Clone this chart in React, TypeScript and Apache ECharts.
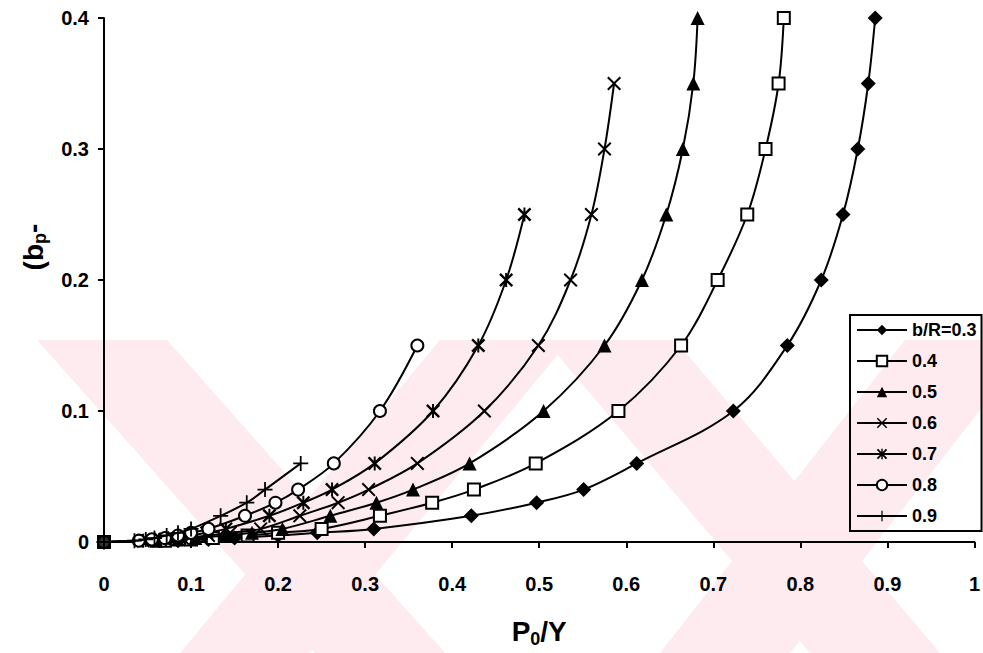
import React, { useEffect, useRef } from "react";
import * as echarts from "echarts";

const FONT = "'Liberation Sans', Arial, sans-serif";

// y levels ((b_p - ...)) shared by the curves
const y03 = [0, 0.001, 0.002, 0.003, 0.005, 0.007, 0.01, 0.02, 0.03, 0.04, 0.06, 0.1, 0.15, 0.2, 0.25, 0.3, 0.35, 0.4];
const y04 = [0, 0.001, 0.002, 0.003, 0.005, 0.007, 0.01, 0.02, 0.03, 0.04, 0.06, 0.1, 0.15, 0.2, 0.25, 0.3, 0.35, 0.4];
const y05 = [0, 0.001, 0.002, 0.003, 0.005, 0.007, 0.01, 0.02, 0.03, 0.04, 0.06, 0.1, 0.15, 0.2, 0.25, 0.3, 0.35, 0.4];
const y06 = [0, 0.001, 0.002, 0.003, 0.005, 0.007, 0.01, 0.02, 0.03, 0.04, 0.06, 0.1, 0.15, 0.2, 0.25, 0.3, 0.35];
const y07 = [0, 0.001, 0.002, 0.003, 0.005, 0.007, 0.01, 0.02, 0.03, 0.04, 0.06, 0.1, 0.15, 0.2, 0.25];
const y08 = [0, 0.001, 0.002, 0.003, 0.005, 0.007, 0.01, 0.02, 0.03, 0.04, 0.06, 0.1, 0.15];
const y09 = [0, 0.001, 0.002, 0.003, 0.005, 0.007, 0.01, 0.02, 0.03, 0.04, 0.06];

// P0/Y values for each curve
const x03 = [0, 0.085, 0.12, 0.15, 0.2, 0.245, 0.31, 0.422, 0.497, 0.551, 0.612, 0.723, 0.785, 0.824, 0.849, 0.866, 0.878, 0.886];
const x04 = [0, 0.07, 0.1, 0.125, 0.165, 0.2, 0.25, 0.317, 0.377, 0.425, 0.496, 0.591, 0.663, 0.705, 0.739, 0.76, 0.775, 0.781];
const x05 = [0, 0.06, 0.085, 0.105, 0.14, 0.17, 0.205, 0.26, 0.313, 0.355, 0.42, 0.505, 0.575, 0.618, 0.646, 0.665, 0.677, 0.682];
const x06 = [0, 0.05, 0.07, 0.09, 0.12, 0.145, 0.18, 0.225, 0.269, 0.304, 0.36, 0.437, 0.499, 0.536, 0.56, 0.575, 0.586];
const x07 = [0, 0.045, 0.065, 0.08, 0.1, 0.118, 0.14, 0.19, 0.229, 0.262, 0.311, 0.378, 0.43, 0.462, 0.483];
const x08 = [0, 0.04, 0.055, 0.07, 0.085, 0.1, 0.12, 0.162, 0.197, 0.223, 0.264, 0.317, 0.36];
const x09 = [0, 0.035, 0.048, 0.058, 0.072, 0.085, 0.1, 0.134, 0.164, 0.185, 0.226];

const seriesNames = ["b/R=0.3", "0.4", "0.5", "0.6", "0.7", "0.8", "0.9"];
const origin = [[0, 0]];

const CROSS = "path://M0,1 L1,0 L5,4 L9,0 L10,1 L6,5 L10,9 L9,10 L5,6 L1,10 L0,9 L4,5 Z";
const STAR =
  "path://M0,1.2 L1.2,0 L5,3.8 L8.8,0 L10,1.2 L6.2,5 L10,8.8 L8.8,10 L5,6.2 L1.2,10 L0,8.8 L3.8,5 Z M4.3,0 L5.7,0 L5.7,10 L4.3,10 Z";
const PLUS =
  "path://M4.4,0 L5.6,0 L5.6,4.4 L10,4.4 L10,5.6 L5.6,5.6 L5.6,10 L4.4,10 L4.4,5.6 L0,5.6 L0,4.4 L4.4,4.4 Z";

const styles = [
  { symbol: "diamond", size: 15, fill: "#000", bw: 0 },
  { symbol: "rect", size: 12, fill: "#fff", bw: 2 },
  { symbol: "triangle", size: 14, fill: "#000", bw: 0 },
  { symbol: CROSS, size: 14, fill: "#000", bw: 0 },
  { symbol: STAR, size: 14, fill: "#000", bw: 0 },
  { symbol: "circle", size: 12, fill: "#fff", bw: 2 },
  { symbol: PLUS, size: 15, fill: "#000", bw: 0 },
];

const xs = [x03, x04, x05, x06, x07, x08, x09];
const ys = [y03, y04, y05, y06, y07, y08, y09];

export default function App() {
  const ref = useRef<HTMLDivElement>(null);
  useEffect(() => {
    const chart = echarts.init(ref.current as HTMLDivElement, null, { renderer: "svg" });
    const pink = "#fdebef";
    const band = (pts: number[][]) => ({
      type: "polygon",
      shape: { points: pts },
      style: { fill: pink },
      z: -1,
      silent: true,
    });
    const series: any[] = seriesNames.map((name, k) => ({
      name,
      type: "line",
      data: xs[k].map((x, i) => [x, ys[k][i]]),
      smooth: 0.35,
      symbol: styles[k].symbol,
      symbolSize: styles[k].size,
      showSymbol: true,
      lineStyle: { color: "#000", width: 2 },
      itemStyle: { color: styles[k].fill, borderColor: "#000", borderWidth: styles[k].bw },
      emphasis: { disabled: true },
      z: 3 + k,
    }));
    series.push({
      name: "origin",
      type: "scatter",
      data: origin,
      symbol: "rect",
      symbolSize: 14,
      itemStyle: { color: "#000" },
      z: 20,
    });
    const option: any = {
      animation: false,
      backgroundColor: "transparent",
      textStyle: { fontFamily: FONT },
      graphic: [
        band([[37, 340], [167, 340], [445, 653], [315, 653]]),
        band([[440, 340], [570, 340], [310, 653], [180, 653]]),
        band([[545, 340], [675, 340], [940, 653], [810, 653]]),
        band([[905, 340], [1035, 340], [790, 653], [660, 653]]),
      ],
      grid: { left: 104, right: 3, top: 18, bottom: 110, containLabel: false },
      xAxis: {
        type: "value",
        min: 0,
        max: 1,
        interval: 0.1,
        name: "{b|P}{s|0}{b|/Y}",
        nameLocation: "middle",
        nameGap: 74,
        nameTextStyle: {
          rich: {
            b: { fontSize: 28, fontWeight: "bold", fontFamily: FONT, color: "#000", lineHeight: 30 },
            s: { fontSize: 18, fontWeight: "bold", fontFamily: FONT, color: "#000", lineHeight: 18, padding: [16, 0, 0, 0] },
          },
        },
        axisLine: { show: true, lineStyle: { color: "#000", width: 2 } },
        axisTick: { show: true, inside: false, length: 6, lineStyle: { color: "#000", width: 2 } },
        axisLabel: { color: "#000", fontSize: 20, fontWeight: "bold", fontFamily: FONT, margin: 32 },
        splitLine: { show: false },
      },
      yAxis: {
        type: "value",
        min: 0,
        max: 0.4,
        interval: 0.1,
        name: "{b|(b}{s|p}{b|-}",
        nameLocation: "middle",
        nameGap: 56,
        nameRotate: 90,
        nameTextStyle: {
          padding: [0, 0, 0, 66],
          rich: {
            b: { fontSize: 28, fontWeight: "bold", fontFamily: FONT, color: "#000", lineHeight: 30 },
            s: { fontSize: 18, fontWeight: "bold", fontFamily: FONT, color: "#000", lineHeight: 18, padding: [14, 0, 0, 0] },
          },
        },
        axisLine: { show: true, lineStyle: { color: "#000", width: 2 } },
        axisTick: { show: true, inside: false, length: 6, lineStyle: { color: "#000", width: 2 } },
        axisLabel: { color: "#000", fontSize: 20, fontWeight: "bold", fontFamily: FONT, margin: 15 },
        splitLine: { show: false },
      },
      legend: {
        data: seriesNames,
        orient: "vertical",
        left: 850,
        top: 315,
        itemWidth: 50,
        itemHeight: 13,
        itemGap: 13,
        padding: [6, 5, 6, 6],
        borderColor: "#000",
        borderWidth: 2,
        backgroundColor: "transparent",
        selectedMode: false,
        textStyle: { color: "#000", fontSize: 18, fontWeight: "bold", fontFamily: FONT },
      },
      series,
    };
    chart.setOption(option);
    return () => chart.dispose();
  }, []);
  return (
    <div style={{ position: "fixed", left: 0, top: 0, width: 983, height: 653, background: "#fff" }}>
      <div ref={ref} style={{ width: 983, height: 653 }} />
    </div>
  );
}
